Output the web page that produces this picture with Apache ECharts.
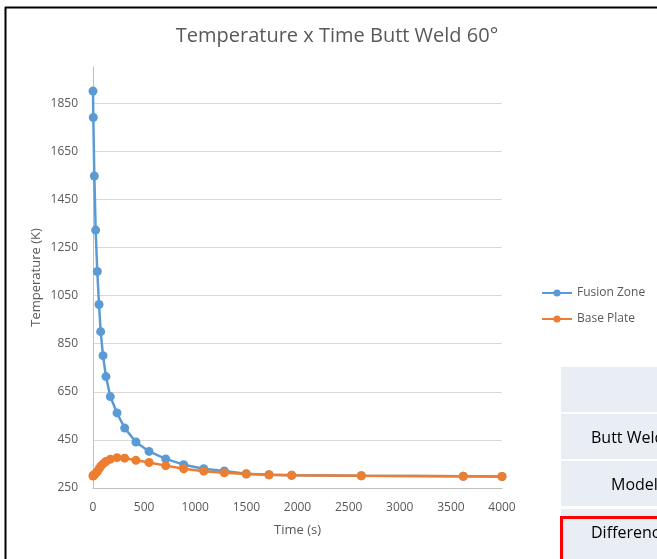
<!DOCTYPE html>
<html>
<head>
<meta charset="utf-8">
<script src="https://cdn.jsdelivr.net/npm/echarts@6/dist/echarts.min.js"></script>
<style>html,body{margin:0;padding:0;background:#fff;}#c{width:657px;height:559px;}</style>
</head>
<body>
<div id="c"></div>
<script>
var timeS = [0, 3, 13, 26, 42, 59, 75, 98, 127, 169, 235, 310, 420, 548, 711, 887, 1083, 1284, 1499, 1721, 1943, 2624, 3621, 4000];
var fusionZone = [1900, 1790, 1547, 1322, 1150, 1013, 900, 800, 713, 630, 562, 499, 441, 402, 371, 347, 330, 321, 309, 305, 303, 301, 299, 298];
var basePlate = [300, 302, 305, 311, 318, 330, 340, 350, 360, 370, 376, 374, 365, 356, 343, 330, 320, 313, 308, 305, 303, 301, 299, 298];
var tableRows = ['', 'Butt Weld', 'Model', 'Difference'];

function pairs(ys){ return timeS.map(function(t,i){ return [t, ys[i]]; }); }

var font = 'Open Sans, Liberation Sans, sans-serif';
var grey = '#595959';
var chart = echarts.init(document.getElementById('c'), null, {renderer:'canvas'});

var graphics = [
  {type:'line', shape:{x1:5, y1:7.5, x2:657, y2:7.5}, style:{stroke:'#000', lineWidth:2}, z:10},
  {type:'line', shape:{x1:5.5, y1:7, x2:5.5, y2:559}, style:{stroke:'#000', lineWidth:2}, z:10}
];
var rowTops = [367, 414, 461, 509];
var rowH = [45, 45, 45, 50];
tableRows.forEach(function(txt, i){
  graphics.push({type:'rect', shape:{x:561, y:rowTops[i], width:100, height:rowH[i]}, style:{fill:'#e9edf4'}});
  if (txt) graphics.push({type:'text', style:{text:txt, x:(i===2?611:591), y:rowTops[i]+24, textVerticalAlign:'middle', font:'16px Open Sans, Lato, sans-serif', fill:'#000'}});
});
graphics.push({type:'rect', shape:{x:561.5, y:517.5, width:110, height:60}, style:{fill:null, stroke:'#ff0000', lineWidth:3}, z:20});

chart.setOption({
  animation:false,
  backgroundColor:'#fff',
  title:{text:'Temperature x Time Butt Weld 60°', left:332, top:21, textAlign:'center',
    textStyle:{fontFamily:font, fontSize:20, fontWeight:'normal', color:grey}},
  legend:{orient:'vertical', left:536, top:282, itemWidth:30, itemHeight:9, itemGap:14,
    textStyle:{fontFamily:font, fontSize:12, color:grey},
    data:['Fusion Zone','Base Plate']},
  grid:{left:93, right:155, top:67, bottom:71, containLabel:false},
  xAxis:{type:'value', min:0, max:4000, interval:500, name:'Time (s)', nameLocation:'middle', nameGap:36,
    nameTextStyle:{fontFamily:font, fontSize:13, color:grey},
    axisLine:{show:true, lineStyle:{color:'#BFBFBF', width:1}}, axisTick:{show:false},
    axisLabel:{fontFamily:font, fontSize:12, color:grey, margin:14, formatter:function(v){return String(v);}},
    splitLine:{show:false}},
  yAxis:{type:'value', min:250, max:2000, interval:200, name:'Temperature (K)', nameLocation:'middle', nameGap:50,
    nameMoveOverlap:false,
    nameTextStyle:{fontFamily:font, fontSize:13, color:grey},
    axisLine:{show:true, lineStyle:{color:'#BFBFBF', width:1}}, axisTick:{show:false},
    axisLabel:{fontFamily:font, fontSize:12, color:grey, margin:15, showMaxLabel:false, formatter:function(v){return String(v);}},
    splitLine:{show:true, showMaxLine:false, showMinLine:false, lineStyle:{color:'#D9D9D9', width:1}}},
  series:[
    {name:'Base Plate', type:'line', data:pairs(basePlate), symbol:'circle', symbolSize:9,
      itemStyle:{color:'#ED7D31'}, lineStyle:{color:'#ED7D31', width:2.5}, z:2},
    {name:'Fusion Zone', type:'line', data:pairs(fusionZone), symbol:'circle', symbolSize:9,
      itemStyle:{color:'#5B9BD5'}, lineStyle:{color:'#5B9BD5', width:2.5}, z:1}
  ],
  graphic:graphics
});
</script>
</body>
</html>
